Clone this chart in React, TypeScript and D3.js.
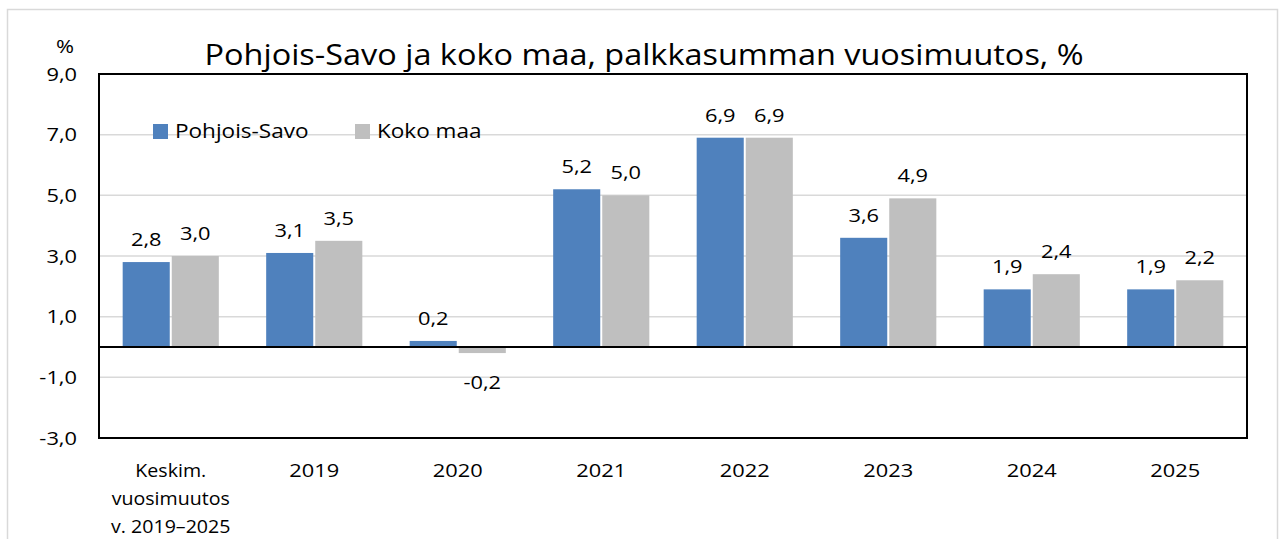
import React from 'react'
import * as d3 from 'd3'

// Chart data
const categories = ['Keskim.|vuosimuutos|v. 2019–2025', '2019', '2020', '2021', '2022', '2023', '2024', '2025']
const pohjoisSavo = [2.8, 3.1, 0.2, 5.2, 6.9, 3.6, 1.9, 1.9]
const kokoMaa = [3.0, 3.5, -0.2, 5.0, 6.9, 4.9, 2.4, 2.2]
const seriesNames = ['Pohjois-Savo', 'Koko maa']
const yTicks = [-3, -1, 1, 3, 5, 7, 9]

const colors = ['#4F81BD', '#BFBFBF']
const font = 'Open Sans, sans-serif'

const W = 1279
const H = 539
const plot = { left: 99, right: 1247, top: 74, bottom: 438 }

const fmt = (v: number) => v.toFixed(1).replace('.', ',')

// text stretched horizontally a bit, the source font is a wide-set Calibri
const T = ({ x, y, size, sx = 1.18, anchor = 'middle', children }: any) => (
  <text transform={`translate(${x},${y}) scale(${sx},1)`} textAnchor={anchor} fontSize={size} fill="#000">
    {children}
  </text>
)

const App: React.FC = () => {
  const x = d3.scaleBand<string>().domain(categories).range([plot.left, plot.right]).paddingInner(0.33).paddingOuter(0.165)
  const y = d3.scaleLinear().domain([-3, 9]).range([plot.bottom, plot.top])
  const gap = 2
  const bw = (x.bandwidth() - gap) / 2
  const series = [pohjoisSavo, kokoMaa]

  return (
    <svg width={W} height={H} style={{ position: 'absolute', left: 0, top: 0, fontFamily: font }}>
      <rect x={0} y={0} width={W} height={H} fill="#fff" />
      <rect x={7.5} y={9.5} width={1270} height={560} fill="none" stroke="#d9d9d9" strokeWidth={1.5} />

      {/* gridlines */}
      {yTicks.filter((t) => t !== -3 && t !== 9).map((t) => (
        <line key={t} x1={plot.left} x2={plot.right} y1={y(t)} y2={y(t)} stroke="#d9d9d9" strokeWidth={1.5} />
      ))}

      {/* y tick labels */}
      {yTicks.map((t) => (
        <T key={t} x={77} y={y(t) + 6.5} size={18.5} anchor="end">{fmt(t)}</T>
      ))}
      <T x={65} y={53} size={18.5}>%</T>

      {/* bars */}
      {series.map((vals, si) =>
        vals.map((v, i) => {
          const bx = x(categories[i])! + si * (bw + gap)
          const y0 = y(Math.max(0, v))
          const h = Math.abs(y(v) - y(0))
          return (
            <g key={`${si}-${i}`}>
              <rect x={bx} y={y0} width={bw} height={h} fill={colors[si]} />
              <T x={bx + bw / 2} y={v >= 0 ? y(v) - 16 : y(v) + 36} size={18.5}>{fmt(v)}</T>
            </g>
          )
        })
      )}

      {/* zero line and frame */}
      <line x1={plot.left} x2={plot.right} y1={y(0)} y2={y(0)} stroke="#000" strokeWidth={2} />
      <rect x={plot.left} y={plot.top} width={plot.right - plot.left} height={plot.bottom - plot.top} fill="none" stroke="#000" strokeWidth={2} />

      {/* x labels */}
      {categories.map((c) =>
        c.split('|').map((line, li) => (
          <T key={c + li} x={x(c)! + x.bandwidth() / 2} y={477 + li * 28} size={18.5} sx={/^\d+$/.test(line) ? 1.18 : 1.06}>
            {line}
          </T>
        ))
      )}

      {/* legend */}
      {seriesNames.map((n, i) => {
        const lx = [153, 355][i]
        return (
          <g key={n}>
            <rect x={lx} y={124} width={15} height={15} fill={colors[i]} />
            <T x={lx + 22} y={138} size={20.5} sx={1.1} anchor="start">{n}</T>
          </g>
        )
      })}

      {/* title */}
      <T x={644} y={65} size={29.5} sx={1.1}>
        Pohjois-Savo ja koko maa, palkkasumman vuosimuutos, %
      </T>
    </svg>
  )
}

export default App
